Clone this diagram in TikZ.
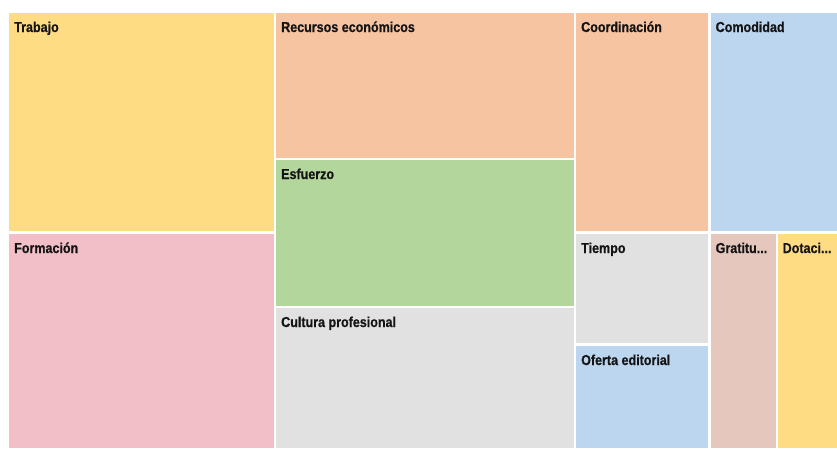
\documentclass[tikz,border=0pt]{standalone}
\usepackage{fontspec}
\setmainfont[FakeStretch=0.87,BoldFeatures={FakeBold=0.6}]{Liberation Sans}
\begin{document}
\begin{tikzpicture}[x=1pt,y=-1pt,
  lbl/.style={anchor=base west,inner sep=0pt,font=\fontsize{14.4}{16}\selectfont\bfseries,text=black!92,xshift=5pt,yshift=-19.5pt}]
\definecolor{cyel}{HTML}{FDDC84}
\definecolor{corg}{HTML}{F7C4A2}
\definecolor{cblu}{HTML}{BDD6EF}
\definecolor{cpnk}{HTML}{F2BFC8}
\definecolor{cgrn}{HTML}{B2D69B}
\definecolor{cgry}{HTML}{E1E1E1}
\definecolor{cbrn}{HTML}{E5C7BD}
\useasboundingbox (0,0) rectangle (837,448);
\fill[white] (0,0) rectangle (837,448);
\newcommand\tmbox[7]{%
  \fill[#6] (#2,#3) rectangle (#4,#5);
  \node[lbl] (#1) at (#2,#3) {#7};}
\tmbox{trabajo}{9}{12.5}{273.5}{231}{cyel}{Trabajo}
\tmbox{formacion}{9}{233.5}{273.5}{448}{cpnk}{Formación}
\tmbox{recursos}{276}{12.5}{574}{157.5}{corg}{Recursos económicos}
\tmbox{esfuerzo}{276}{159.5}{574}{305.5}{cgrn}{Esfuerzo}
\tmbox{cultura}{276}{307.5}{574}{448}{cgry}{Cultura profesional}
\tmbox{coord}{576}{12.5}{708}{231}{corg}{Coordinación}
\tmbox{tiempo}{576}{233.5}{708}{343}{cgry}{Tiempo}
\tmbox{oferta}{576}{345.5}{708}{448}{cblu}{Oferta editorial}
\tmbox{comodidad}{710.5}{12.5}{837}{231}{cblu}{Comodidad}
\tmbox{gratitud}{710.5}{233.5}{775.5}{448}{cbrn}{Gratitu...}
\tmbox{dotacion}{777.5}{233.5}{837}{448}{cyel}{Dotaci...}
\end{tikzpicture}
\end{document}
